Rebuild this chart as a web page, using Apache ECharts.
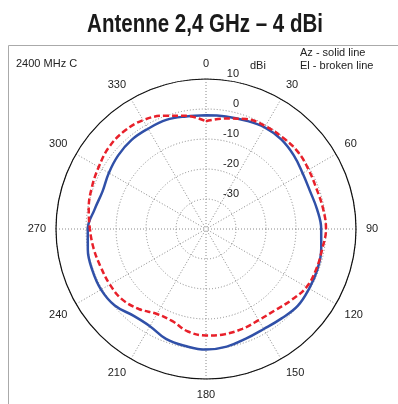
<!DOCTYPE html>
<html>
<head>
<meta charset="utf-8">
<script src="https://cdn.jsdelivr.net/npm/echarts@6/dist/echarts.min.js"></script>
<style>
html,body{margin:0;padding:0;background:#fff;}
#chart{width:398px;height:404px;}
</style>
</head>
<body>
<div id="chart"></div>
<script>
// Angles (degrees) at which the patterns were read
const angles = [0,10,20,30,40,50,60,70,80,90,100,110,120,130,140,150,160,170,
                180,190,200,210,220,230,240,250,260,270,280,290,300,310,320,330,340,350];
// Az - solid line (dBi)
const azValues = [-2.1,-1.9,-1.5,-0.9,-1.0,-1.8,-2.8,-3.1,-2.4,-1.6,-1.0,-0.5,-0.3,-0.1,-1.0,-1.5,-1.1,-0.2,
                  0.2,-0.4,-1.0,-2.6,-2.3,-0.3,0.4,0.3,0.0,-0.6,-2.3,-3.3,-2.6,-1.8,-1.3,-1.4,-1.3,-1.9];
// El - broken line (dBi)
const elValues = [-4.1,-2.6,-1.0,-0.4,-0.2,0.0,-0.5,-0.8,-0.4,0.0,-0.7,-0.9,-1.3,-3.0,-4.5,-4.9,-4.6,-4.4,
                  -4.5,-5.3,-7.3,-7.3,-5.2,-3.5,-3.0,-2.7,-2.0,-1.3,-0.3,0.5,1.3,2.3,2.5,1.9,0.2,-1.7];
// Radius ticks (dBi)
const radiusTicks = [-40,-30,-20,-10,0,10];
// Angle tick labels
const angleTicks = [0,30,60,90,120,150,180,210,240,270,300,330];

function toPolar(vals){
  const d = vals.map((v,i)=>[v, angles[i]]);
  d.push([vals[0], 360]);
  return d;
}

const chart = echarts.init(document.getElementById('chart'), null, {renderer:'canvas'});
const labelFont = 'Liberation Sans, Arial, sans-serif';
chart.setOption({
  animation:false,
  backgroundColor:'#fff',
  polar:{center:[206,229], radius:150},
  angleAxis:{
    type:'value', min:0, max:360, interval:30, startAngle:90, clockwise:true,
    axisLine:{show:true, lineStyle:{color:'#111', width:1.2}},
    axisTick:{show:false},
    axisLabel:{show:true, margin:10, fontSize:11, color:'#222', fontFamily:labelFont,
      formatter:function(v){ return angleTicks.indexOf(v) >= 0 ? String(v) : ''; }},
    splitLine:{show:true, lineStyle:{color:'#888', type:[1,2], width:1}}
  },
  radiusAxis:{
    type:'value', min:radiusTicks[0], max:radiusTicks[radiusTicks.length-1], interval:10,
    axisLine:{show:false}, axisTick:{show:false},
    axisLabel:{show:true, fontSize:11, color:'#222', fontFamily:labelFont, margin:-33, verticalAlign:'bottom',
      formatter:function(v){ return v===radiusTicks[0] ? '' : String(v); }},
    splitLine:{show:true, lineStyle:{color:'#888', type:[1,2], width:1}}
  },
  graphic:[
    {type:'rect', shape:{x:8.5, y:45.5, width:400, height:400}, style:{fill:'none', stroke:'#aaa', lineWidth:1}},
    {type:'text', x:205, y:25, scaleX:0.82,
      style:{text:'Antenne 2,4 GHz – 4 dBi', textAlign:'center', textVerticalAlign:'middle',
        fontFamily:labelFont, fontWeight:'bold', fontSize:25, fill:'#1a1a1a'}},
    {type:'text', style:{text:'2400 MHz C', x:16, y:64, textVerticalAlign:'middle', fontSize:11, fontFamily:labelFont, fill:'#222'}},
    {type:'text', style:{text:'Az - solid line', x:300, y:53, textVerticalAlign:'middle', fontSize:11, fontFamily:labelFont, fill:'#222'}},
    {type:'text', style:{text:'El - broken line', x:300, y:66, textVerticalAlign:'middle', fontSize:11, fontFamily:labelFont, fill:'#222'}},
    {type:'text', style:{text:'dBi', x:250, y:66, textVerticalAlign:'middle', fontSize:11, fontFamily:labelFont, fill:'#222'}}
  ],
  series:[
    {name:'Az', type:'line', coordinateSystem:'polar', data:toPolar(azValues), smooth:0.4, showSymbol:false,
      lineStyle:{color:'#3050a8', width:2.5}, z:3},
    {name:'El', type:'line', coordinateSystem:'polar', data:toPolar(elValues), smooth:0.4, showSymbol:false,
      lineStyle:{color:'#e8202a', width:2.5, type:[6,3]}, z:4}
  ]
});
</script>
</body>
</html>
